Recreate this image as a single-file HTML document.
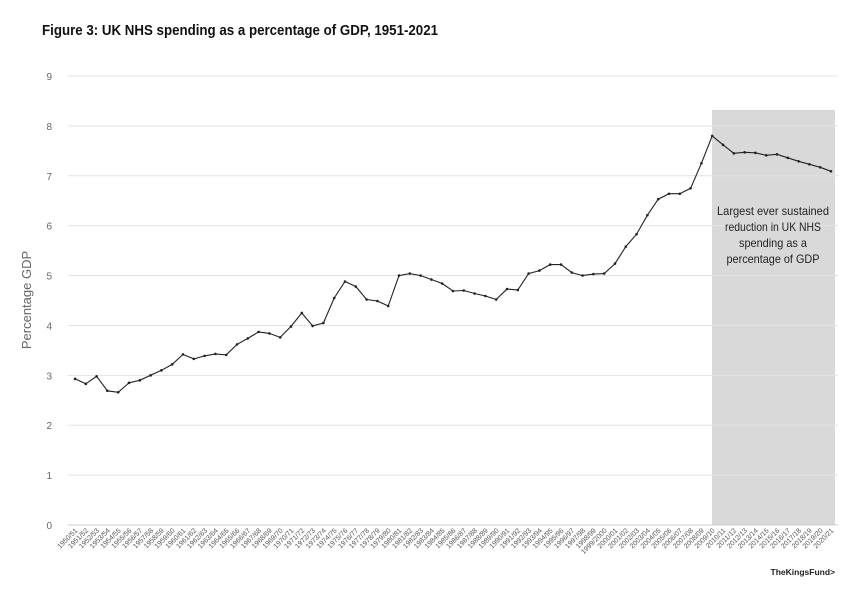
<!DOCTYPE html>
<html><head><meta charset="utf-8"><style>
body{margin:0;background:#fff;}
svg{display:block;font-family:"Liberation Sans",sans-serif;}
</style></head><body>
<svg width="850" height="596" viewBox="0 0 850 596">
<text x="42" y="35" font-size="14.5" font-weight="bold" fill="#111" textLength="396" lengthAdjust="spacingAndGlyphs">Figure 3: UK NHS spending as a percentage of GDP, 1951-2021</text>
<rect x="712" y="110" width="123" height="415" fill="#d9d9d9"/>
<g id="grid"></g>
<g id="ylabels"></g>
<text transform="translate(31,300) rotate(-90)" text-anchor="middle" font-size="13" fill="#666">Percentage  GDP</text>
<g id="xlabels"></g>
<path id="line" fill="none" stroke="#222" stroke-width="1.1"/>
<g id="points"></g>
<g font-size="12" fill="#222" text-anchor="middle">
<text x="773" y="215" textLength="112" lengthAdjust="spacingAndGlyphs">Largest ever sustained</text>
<text x="773" y="231" textLength="96" lengthAdjust="spacingAndGlyphs">reduction in UK NHS</text>
<text x="773" y="247" textLength="68" lengthAdjust="spacingAndGlyphs">spending as a</text>
<text x="773" y="263" textLength="93" lengthAdjust="spacingAndGlyphs">percentage of GDP</text>
</g>
<text x="835" y="575" text-anchor="end" font-size="8.5" font-weight="bold" fill="#222">TheKingsFund&gt;</text>
</svg>
<script>
const yTicks=[0,1,2,3,4,5,6,7,8,9];
const values=[2.93,2.83,2.98,2.69,2.66,2.85,2.90,3.00,3.10,3.22,3.42,3.33,3.39,3.43,3.41,3.62,3.74,3.87,3.84,3.76,3.98,4.25,3.99,4.05,4.55,4.88,4.78,4.52,4.49,4.39,5.00,5.04,5.00,4.92,4.84,4.69,4.70,4.64,4.59,4.52,4.73,4.71,5.04,5.10,5.22,5.22,5.06,5.00,5.03,5.04,5.24,5.58,5.83,6.21,6.53,6.64,6.64,6.75,7.25,7.80,7.62,7.45,7.47,7.46,7.41,7.43,7.36,7.29,7.23,7.17,7.09];
const startYear=1950;
const categories=values.map((v,i)=>{const a=startYear+i,b=a+1;return a===1999?"1999/2000":a+"/"+String(b).slice(-2);});
const NS="http://www.w3.org/2000/svg";
function y(v){return 525-v*(525-76)/9;}
function x(i){return 75+i*(831-75)/(categories.length-1);}
const grid=document.getElementById('grid'),yl=document.getElementById('ylabels');
yTicks.forEach(t=>{
 const l=document.createElementNS(NS,'line');
 l.setAttribute('x1',68);l.setAttribute('x2',838);l.setAttribute('y1',y(t));l.setAttribute('y2',y(t));
 l.setAttribute('stroke',t===0?'#ccc':'#e3e3e3');l.setAttribute('stroke-width','1');
 
 
 grid.appendChild(l);
 const tx=document.createElementNS(NS,'text');
 tx.setAttribute('x',52);tx.setAttribute('y',y(t)+4);tx.setAttribute('text-anchor','end');
 tx.setAttribute('font-size','10');tx.setAttribute('fill','#666');tx.textContent=t;
 
 
 yl.appendChild(tx);
});
const xl=document.getElementById('xlabels');
categories.forEach((c,i)=>{
 const tx=document.createElementNS(NS,'text');
 tx.setAttribute('transform','translate('+(x(i)+3)+',531) rotate(-45)');
 tx.setAttribute('text-anchor','end');tx.setAttribute('font-size','7');tx.setAttribute('fill','#555');
 tx.textContent=c;
 
 
 xl.appendChild(tx);
});
document.getElementById('line').setAttribute('d',values.map((v,i)=>(i?'L':'M')+x(i).toFixed(1)+','+y(v).toFixed(1)).join(''));
const pts=document.getElementById('points');
values.forEach((v,i)=>{
 const c=document.createElementNS(NS,'circle');
 c.setAttribute('cx',x(i));c.setAttribute('cy',y(v));c.setAttribute('r',1.3);c.setAttribute('fill','#222');
 
 
 pts.appendChild(c);
});
</script>
</body></html>
